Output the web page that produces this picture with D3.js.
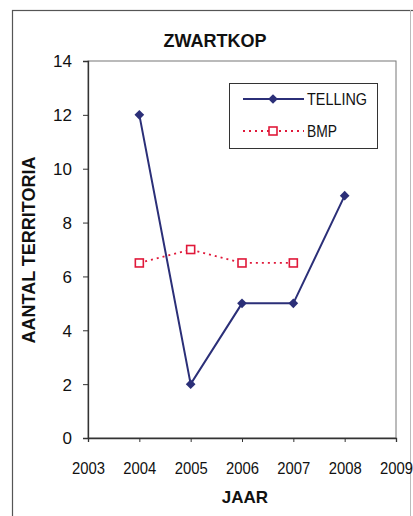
<!DOCTYPE html>
<html><head><meta charset="utf-8">
<script src="https://cdn.jsdelivr.net/npm/d3@7"></script>
<style>body{margin:0;background:#fff}svg{display:block;font-family:Arial,"Liberation Sans",sans-serif}</style>
</head><body>
<svg id="c" width="413" height="516"></svg>
<script>
const years = [2004, 2005, 2006, 2007, 2008];
const telling = [12, 2, 5, 5, 9];
const bmpYears = [2004, 2005, 2006, 2007];
const bmp = [6.5, 7, 6.5, 6.5];
const xTicks = [2003, 2004, 2005, 2006, 2007, 2008, 2009];
const yTicks = [0, 2, 4, 6, 8, 10, 12, 14];

const svg = d3.select("#c");
const m = {l: 88, t: 61, r: 396, b: 438};
const x = d3.scaleLinear().domain([2003, 2009]).range([m.l, m.r]);
const y = d3.scaleLinear().domain([0, 14]).range([m.b, m.t]);

// outer frame
svg.append("rect").attr("x", 12.5).attr("y", 10.5).attr("width", 420).attr("height", 520)
  .attr("fill", "none").attr("stroke", "#555").attr("stroke-width", 1.2);
svg.append("line").attr("x1", 410.5).attr("x2", 410.5).attr("y1", 10).attr("y2", 516)
  .attr("stroke", "#bbb").attr("stroke-width", 1);

// plot box
svg.append("rect").attr("x", m.l).attr("y", m.t).attr("width", m.r - m.l).attr("height", m.b - m.t)
  .attr("fill", "none").attr("stroke", "#777").attr("stroke-width", 1);

// axes
const ya = svg.append("g").attr("transform", `translate(${m.l},0)`)
  .call(d3.axisLeft(y).tickValues(yTicks).tickSize(5).tickPadding(11).tickFormat(d3.format("d")));
const xa = svg.append("g").attr("transform", `translate(0,${m.b})`)
  .call(d3.axisBottom(x).tickValues(xTicks).tickSize(4).tickPadding(20).tickFormat(d3.format("d")));
[ya, xa].forEach(a => {
  a.select(".domain").attr("stroke", "#333").attr("stroke-width", 1.3);
  a.selectAll(".tick line").attr("stroke", "#333");
  a.selectAll("text").attr("font-size", 17).attr("fill", "#111").attr("font-family", "Arial, 'Liberation Sans', sans-serif");
});
ya.selectAll("text").attr("dy", "0.35em");
xa.selectAll("text").attr("textLength", 33).attr("lengthAdjust", "spacingAndGlyphs");

// title & axis titles
svg.append("text").attr("x", 215).attr("y", 47).attr("text-anchor", "middle")
  .attr("font-size", 18).attr("font-weight", "bold").attr("fill", "#111").text("ZWARTKOP");
svg.append("text").attr("x", 245).attr("y", 503).attr("text-anchor", "middle")
  .attr("font-size", 17).attr("font-weight", "bold").attr("fill", "#111").text("JAAR");
svg.append("text").attr("transform", "translate(35,250) rotate(-90)").attr("text-anchor", "middle")
  .attr("font-size", 18).attr("font-weight", "bold").attr("fill", "#111").text("AANTAL TERRITORIA");

const navy = "#2b2f78", red = "#e0193a";
const line = d3.line();

// BMP
svg.append("path").attr("d", line(bmpYears.map((d, i) => [x(d), y(bmp[i])])))
  .attr("fill", "none").attr("stroke", red).attr("stroke-width", 1.8).attr("stroke-dasharray", "2,4");
svg.selectAll(".bmp").data(bmpYears).enter().append("rect")
  .attr("x", (d) => x(d) - 4).attr("y", (d, i) => y(bmp[i]) - 4).attr("width", 8).attr("height", 8)
  .attr("fill", "#fff").attr("stroke", red).attr("stroke-width", 1.6);

// TELLING
svg.append("path").attr("d", line(years.map((d, i) => [x(d), y(telling[i])])))
  .attr("fill", "none").attr("stroke", navy).attr("stroke-width", 2);
svg.selectAll(".tel").data(years).enter().append("path")
  .attr("d", d3.symbol(d3.symbolDiamond2, 60))
  .attr("transform", (d, i) => `translate(${x(d)},${y(telling[i])})`)
  .attr("fill", navy);

// legend
const lg = svg.append("g");
lg.append("rect").attr("x", 229.5).attr("y", 83.5).attr("width", 148).attr("height", 65)
  .attr("fill", "#fff").attr("stroke", "#333").attr("stroke-width", 1);
lg.append("line").attr("x1", 243).attr("x2", 304).attr("y1", 99).attr("y2", 99).attr("stroke", navy).attr("stroke-width", 2);
lg.append("path").attr("d", d3.symbol(d3.symbolDiamond2, 60)).attr("transform", "translate(273,99)").attr("fill", navy);
lg.append("text").attr("x", 307).attr("y", 104.5).attr("font-size", 16).attr("fill", "#111")
  .attr("textLength", 60).attr("lengthAdjust", "spacingAndGlyphs").text("TELLING");
lg.append("line").attr("x1", 243).attr("x2", 304).attr("y1", 131).attr("y2", 131).attr("stroke", red).attr("stroke-width", 1.8).attr("stroke-dasharray", "2,4");
lg.append("rect").attr("x", 269).attr("y", 127).attr("width", 8).attr("height", 8).attr("fill", "#fff").attr("stroke", red).attr("stroke-width", 1.6);
lg.append("text").attr("x", 307).attr("y", 136.5).attr("font-size", 16).attr("fill", "#111")
  .attr("textLength", 30).attr("lengthAdjust", "spacingAndGlyphs").text("BMP");
</script>
</body></html>
